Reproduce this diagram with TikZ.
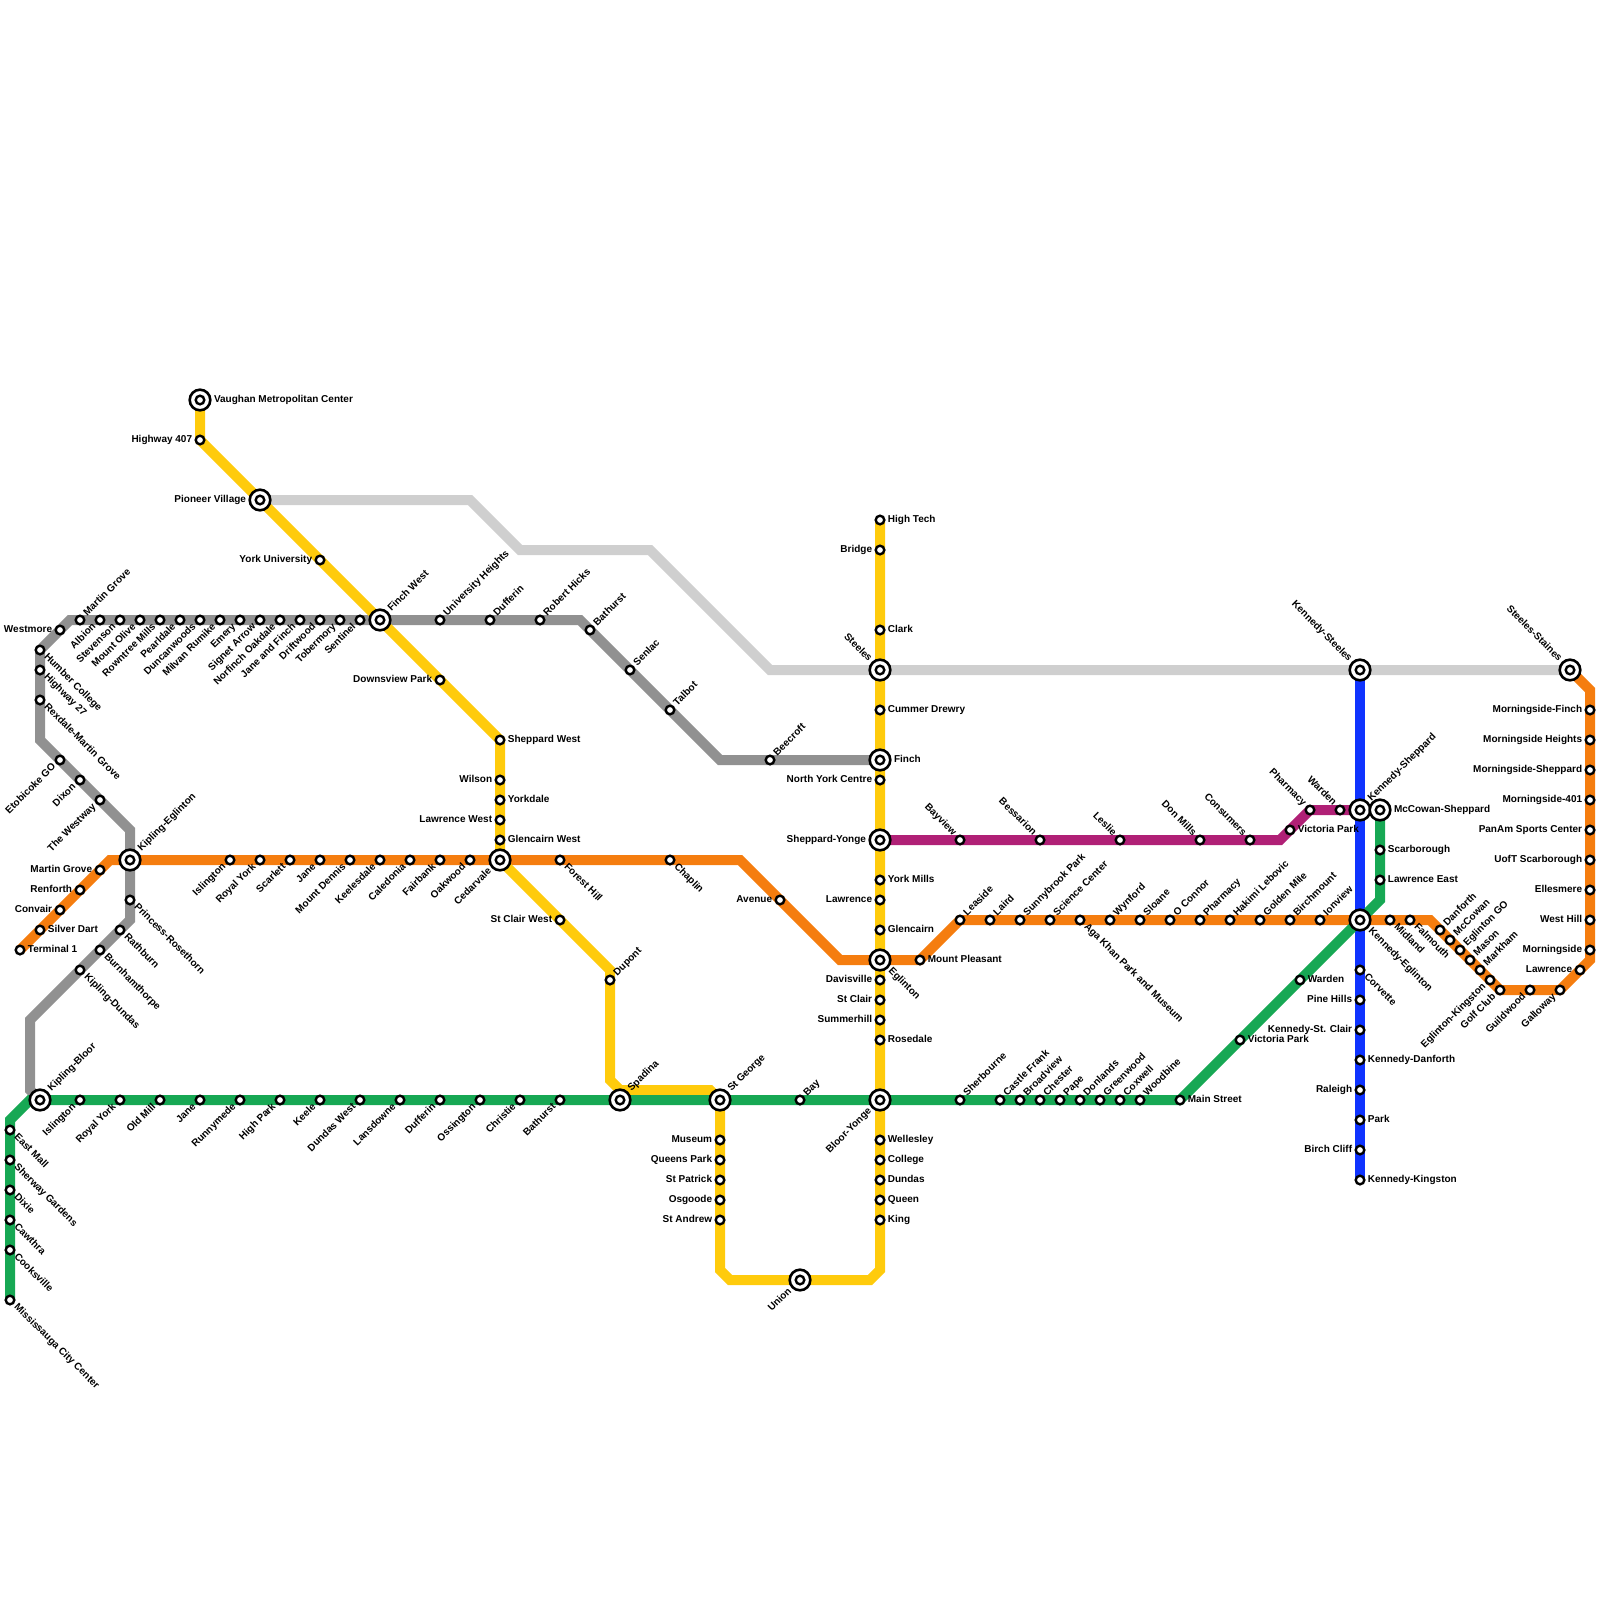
\documentclass[tikz,border=0pt]{standalone}
\usepackage{fontspec}
\usepackage{xcolor}
\setmainfont{Liberation Sans}
\usetikzlibrary{backgrounds}
\definecolor{LineGrey}{RGB}{145,145,145}
\definecolor{LinePale}{RGB}{207,207,207}
\definecolor{LineOrange}{RGB}{245,125,15}
\definecolor{LineYellow}{RGB}{255,203,12}
\definecolor{LineGreen}{RGB}{23,168,84}
\definecolor{LineBlue}{RGB}{15,51,255}
\definecolor{LinePurple}{RGB}{176,32,118}

\begin{document}
\begin{tikzpicture}[
    x=1pt,y=-1pt,
    st/.style={circle,draw=black,fill=white,line width=2.4pt,inner sep=0pt,minimum size=8.6pt},
    hub/.style={st,line width=2.6pt,minimum size=20.6pt,label distance=1pt,path picture={
        \draw[line width=2.4pt,fill=white] (path picture bounding box.center) circle (4.3pt);}},
    lab/.style={font=\fontsize{10}{10}\selectfont\bfseries,text height=7pt,text depth=2pt,inner sep=2.4pt,outer sep=0pt},
    rt/.style={label={[lab,anchor=west]0:#1}},
    lf/.style={label={[lab,anchor=east]180:#1}},
    ur/.style={label={[lab,rotate=45,anchor=west]45:#1}},
    dr/.style={label={[lab,rotate=-45,anchor=west]-45:#1}},
    ul/.style={label={[lab,rotate=-45,anchor=east]135:#1}},
    dl/.style={label={[lab,rotate=45,anchor=east]-135:#1}},
    ln/.style={line width=10pt}
  ]
  \useasboundingbox (0,0) rectangle (1600,1600);
  % Interchanges
  \node[hub,rt=Vaughan Metropolitan Center] (vaughan) at (200,400) {};
  \node[hub,lf=Pioneer Village] (pioneer) at (260,500) {};
  \node[hub,ur=Finch West] (finchw) at (380,620) {};
  \node[hub,rt=Finch] (finch) at (880,760) {};
  \node[hub,ul=Steeles] (steeles) at (880,670) {};
  \node[hub,lf=Sheppard-Yonge] (shepyonge) at (880,840) {};
  \node[hub,dr=Eglinton] (eglinton) at (880,960) {};
  \node[hub,dl=Bloor-Yonge] (blooryonge) at (880,1100) {};
  \node[hub,dl=Union] (union) at (800,1280) {};
  \node[hub,ur=St George] (stgeorge) at (720,1100) {};
  \node[hub,ur=Spadina] (spadina) at (620,1100) {};
  \node[hub,dl=Cedarvale] (cedarvale) at (500,860) {};
  \node[hub,ur=Kipling-Eglinton] (kipegl) at (130,860) {};
  \node[hub,ur=Kipling-Bloor] (kipbloor) at (40,1100) {};
  \node[hub,ul=Kennedy-Steeles] (kensteeles) at (1360,670) {};
  \node[hub,ur=Kennedy-Sheppard] (kenshep) at (1360,810) {};
  \node[hub,rt=McCowan-Sheppard] (mcshep) at (1380,810) {};
  \node[hub,dr=Kennedy-Eglinton] (keneglin) at (1360,920) {};
  \node[hub,ul=Steeles-Staines] (stainess) at (1570,670) {};
  % Grey line
  \node[st,lf=Westmore] (gwestmore) at (60,630) {};
  \node[st,ur=Martin Grove] (gmartin) at (80,620) {};
  \node[st,dl=Albion] (galbion) at (100,620) {};
  \node[st,dl=Stevenson] (gstevenson) at (120,620) {};
  \node[st,dl=Mount Olive] (golive) at (140,620) {};
  \node[st,dl=Rowntree Mills] (growntree) at (160,620) {};
  \node[st,dl=Pearldale] (gpearl) at (180,620) {};
  \node[st,dl=Duncanwoods] (gduncan) at (200,620) {};
  \node[st,dl=Milvan Rumike] (gmilvan) at (220,620) {};
  \node[st,dl=Emery] (gemery) at (240,620) {};
  \node[st,dl=Signet Arrow] (gsignet) at (260,620) {};
  \node[st,dl=Norfinch Oakdale] (gnorfinch) at (280,620) {};
  \node[st,dl=Jane and Finch] (gjane) at (300,620) {};
  \node[st,dl=Driftwood] (gdrift) at (320,620) {};
  \node[st,dl=Tobermory] (gtober) at (340,620) {};
  \node[st,dl=Sentinel] (gsentinel) at (360,620) {};
  \node[st,ur=University Heights] (guni) at (440,620) {};
  \node[st,ur=Dufferin] (gdufferin) at (490,620) {};
  \node[st,ur=Robert Hicks] (ghicks) at (540,620) {};
  \node[st,ur=Bathurst] (gbathurst) at (590,630) {};
  \node[st,ur=Senlac] (gsenlac) at (630,670) {};
  \node[st,ur=Talbot] (gtalbot) at (670,710) {};
  \node[st,ur=Beecroft] (gbeecroft) at (770,760) {};
  \node[st,dr=Humber College] (ghumber) at (40,650) {};
  \node[st,dr=Highway 27] (ghwy) at (40,670) {};
  \node[st,dr=Rexdale-Martin Grove] (grexdale) at (40,700) {};
  \node[st,dl=Etobicoke GO] (getob) at (60,760) {};
  \node[st,dl=Dixon] (gdixon) at (80,780) {};
  \node[st,dl=The Westway] (gwestway) at (100,800) {};
  \node[st,dr=Princess-Rosethorn] (gprincess) at (130,900) {};
  \node[st,dr=Rathburn] (grath) at (120,930) {};
  \node[st,dr=Burnhamthorpe] (gburn) at (100,950) {};
  \node[st,dr=Kipling-Dundas] (gkipd) at (80,970) {};
  % Orange line
  \node[st,rt=Terminal 1] (oterm) at (20,950) {};
  \node[st,rt=Silver Dart] (osilver) at (40,930) {};
  \node[st,lf=Convair] (oconvair) at (60,910) {};
  \node[st,lf=Renforth] (orenforth) at (80,890) {};
  \node[st,lf=Martin Grove] (omartin) at (100,870) {};
  \node[st,dl=Islington] (oisling) at (230,860) {};
  \node[st,dl=Royal York] (oroyal) at (260,860) {};
  \node[st,dl=Scarlett] (oscarlett) at (290,860) {};
  \node[st,dl=Jane] (ojane) at (320,860) {};
  \node[st,dl=Mount Dennis] (odennis) at (350,860) {};
  \node[st,dl=Keelesdale] (okeele) at (380,860) {};
  \node[st,dl=Caledonia] (ocaled) at (410,860) {};
  \node[st,dl=Fairbank] (ofair) at (440,860) {};
  \node[st,dl=Oakwood] (ooak) at (470,860) {};
  \node[st,dr=Forest Hill] (oforest) at (560,860) {};
  \node[st,dr=Chaplin] (ochaplin) at (670,860) {};
  \node[st,lf=Avenue] (oavenue) at (780,900) {};
  \node[st,rt=Mount Pleasant] (opleasant) at (920,960) {};
  \node[st,ur=Leaside] (oleaside) at (960,920) {};
  \node[st,ur=Laird] (olaird) at (990,920) {};
  \node[st,ur=Sunnybrook Park] (osunny) at (1020,920) {};
  \node[st,ur=Science Center] (oscience) at (1050,920) {};
  \node[st,dr=Aga Khan Park and Museum] (oaga) at (1080,920) {};
  \node[st,ur=Wynford] (owynford) at (1110,920) {};
  \node[st,ur=Sloane] (osloane) at (1140,920) {};
  \node[st,ur=O Connor] (oconnor) at (1170,920) {};
  \node[st,ur=Pharmacy] (opharm) at (1200,920) {};
  \node[st,ur=Hakimi Lebovic] (ohakimi) at (1230,920) {};
  \node[st,ur=Golden Mile] (ogolden) at (1260,920) {};
  \node[st,ur=Birchmount] (obirch) at (1290,920) {};
  \node[st,ur=Ionview] (oion) at (1320,920) {};
  \node[st,dr=Midland] (omidland) at (1390,920) {};
  \node[st,dr=Falmouth] (ofalmouth) at (1410,920) {};
  \node[st,ur=Danforth] (odanforth) at (1440,930) {};
  \node[st,ur=McCowan] (omccowan) at (1450,940) {};
  \node[st,ur=Eglinton GO] (oeglgo) at (1460,950) {};
  \node[st,ur=Mason] (omason) at (1470,960) {};
  \node[st,ur=Markham] (omarkham) at (1480,970) {};
  \node[st,dl=Eglinton-Kingston] (oeglking) at (1490,980) {};
  \node[st,dl=Golf Club] (ogolf) at (1500,990) {};
  \node[st,dl=Guildwood] (oguild) at (1530,990) {};
  \node[st,dl=Galloway] (ogallo) at (1560,990) {};
  \node[st,lf=Lawrence] (olawr) at (1580,970) {};
  \node[st,lf=Morningside] (omorn) at (1590,950) {};
  \node[st,lf=West Hill] (owest) at (1590,920) {};
  \node[st,lf=Ellesmere] (oelle) at (1590,890) {};
  \node[st,lf=UofT Scarborough] (ouoft) at (1590,860) {};
  \node[st,lf=PanAm Sports Center] (opanam) at (1590,830) {};
  \node[st,lf=Morningside-401] (om401) at (1590,800) {};
  \node[st,lf=Morningside-Sheppard] (omshep) at (1590,770) {};
  \node[st,lf=Morningside Heights] (omheights) at (1590,740) {};
  \node[st,lf=Morningside-Finch] (omfinch) at (1590,710) {};
  % Yellow line
  \node[st,lf=Highway 407] (yhwy) at (200,440) {};
  \node[st,lf=York University] (yyork) at (320,560) {};
  \node[st,lf=Downsview Park] (ydowns) at (440,680) {};
  \node[st,rt=Sheppard West] (yshepw) at (500,740) {};
  \node[st,lf=Wilson] (ywilson) at (500,780) {};
  \node[st,rt=Yorkdale] (yyorkd) at (500,800) {};
  \node[st,lf=Lawrence West] (ylawrw) at (500,820) {};
  \node[st,rt=Glencairn West] (yglenw) at (500,840) {};
  \node[st,lf=St Clair West] (yclairw) at (560,920) {};
  \node[st,ur=Dupont] (ydupont) at (610,980) {};
  \node[st,lf=Museum] (ymuseum) at (720,1140) {};
  \node[st,lf=Queens Park] (yqueens) at (720,1160) {};
  \node[st,lf=St Patrick] (ypatrick) at (720,1180) {};
  \node[st,lf=Osgoode] (yosgoode) at (720,1200) {};
  \node[st,lf=St Andrew] (yandrew) at (720,1220) {};
  \node[st,rt=King] (yking) at (880,1220) {};
  \node[st,rt=Queen] (yqueen) at (880,1200) {};
  \node[st,rt=Dundas] (ydundas) at (880,1180) {};
  \node[st,rt=College] (ycollege) at (880,1160) {};
  \node[st,rt=Wellesley] (ywelles) at (880,1140) {};
  \node[st,rt=Rosedale] (yrose) at (880,1040) {};
  \node[st,lf=Summerhill] (ysummer) at (880,1020) {};
  \node[st,lf=St Clair] (yclair) at (880,1000) {};
  \node[st,lf=Davisville] (ydavis) at (880,980) {};
  \node[st,rt=Glencairn] (yglen) at (880,930) {};
  \node[st,lf=Lawrence] (ylawr) at (880,900) {};
  \node[st,rt=York Mills] (ymills) at (880,880) {};
  \node[st,lf=North York Centre] (ynorth) at (880,780) {};
  \node[st,rt=Cummer Drewry] (ycummer) at (880,710) {};
  \node[st,rt=Clark] (yclark) at (880,630) {};
  \node[st,lf=Bridge] (ybridge) at (880,550) {};
  \node[st,rt=High Tech] (yhigh) at (880,520) {};
  % Purple line
  \node[st,ul=Bayview] (pbayview) at (960,840) {};
  \node[st,ul=Bessarion] (pbess) at (1040,840) {};
  \node[st,ul=Leslie] (pleslie) at (1120,840) {};
  \node[st,ul=Don Mills] (pdon) at (1200,840) {};
  \node[st,ul=Consumers] (pcons) at (1250,840) {};
  \node[st,rt=Victoria Park] (pvict) at (1290,830) {};
  \node[st,ul=Pharmacy] (ppharm) at (1310,810) {};
  \node[st,ul=Warden] (pwarden) at (1340,810) {};
  % Blue line
  \node[st,dr=Corvette] (bcorv) at (1360,970) {};
  \node[st,lf=Pine Hills] (bpine) at (1360,1000) {};
  \node[st,lf=Kennedy-St. Clair] (bclair) at (1360,1030) {};
  \node[st,rt=Kennedy-Danforth] (bdanf) at (1360,1060) {};
  \node[st,lf=Raleigh] (braleigh) at (1360,1090) {};
  \node[st,rt=Park] (bpark) at (1360,1120) {};
  \node[st,lf=Birch Cliff] (bbirch) at (1360,1150) {};
  \node[st,rt=Kennedy-Kingston] (bking) at (1360,1180) {};
  % Green line
  \node[st,dr=Mississauga City Center] (smiss) at (10,1300) {};
  \node[st,dr=Cooksville] (scook) at (10,1250) {};
  \node[st,dr=Cawthra] (scaw) at (10,1220) {};
  \node[st,dr=Dixie] (sdixie) at (10,1190) {};
  \node[st,dr=Sherway Gardens] (ssher) at (10,1160) {};
  \node[st,dr=East Mall] (seast) at (10,1130) {};
  \node[st,dl=Islington] (sisling) at (80,1100) {};
  \node[st,dl=Royal York] (sroyal) at (120,1100) {};
  \node[st,dl=Old Mill] (sold) at (160,1100) {};
  \node[st,dl=Jane] (sjane) at (200,1100) {};
  \node[st,dl=Runnymede] (srunny) at (240,1100) {};
  \node[st,dl=High Park] (shigh) at (280,1100) {};
  \node[st,dl=Keele] (skeele) at (320,1100) {};
  \node[st,dl=Dundas West] (sdundas) at (360,1100) {};
  \node[st,dl=Lansdowne] (slans) at (400,1100) {};
  \node[st,dl=Dufferin] (sduff) at (440,1100) {};
  \node[st,dl=Ossington] (sossing) at (480,1100) {};
  \node[st,dl=Christie] (schrist) at (520,1100) {};
  \node[st,dl=Bathurst] (sbath) at (560,1100) {};
  \node[st,ur=Bay] (sbay) at (800,1100) {};
  \node[st,ur=Sherbourne] (ssherb) at (960,1100) {};
  \node[st,ur=Castle Frank] (scastle) at (1000,1100) {};
  \node[st,ur=Broadview] (sbroad) at (1020,1100) {};
  \node[st,ur=Chester] (schester) at (1040,1100) {};
  \node[st,ur=Pape] (spape) at (1060,1100) {};
  \node[st,ur=Donlands] (sdon) at (1080,1100) {};
  \node[st,ur=Greenwood] (sgreen) at (1100,1100) {};
  \node[st,ur=Coxwell] (scox) at (1120,1100) {};
  \node[st,ur=Woodbine] (swood) at (1140,1100) {};
  \node[st,rt=Main Street] (smain) at (1180,1100) {};
  \node[st,rt=Victoria Park] (svict) at (1240,1040) {};
  \node[st,rt=Warden] (swarden) at (1300,980) {};
  \node[st,rt=Lawrence East] (slawr) at (1380,880) {};
  \node[st,rt=Scarborough] (sscar) at (1380,850) {};
  % Bends
  \coordinate (g1) at (30,1090);
  \coordinate (g2) at (30,1020);
  \coordinate (g3) at (130,920);
  \coordinate (g4) at (130,830);
  \coordinate (g5) at (40,740);
  \coordinate (g6) at (70,620);
  \coordinate (g7) at (580,620);
  \coordinate (g8) at (720,760);
  \coordinate (w1) at (470,500);
  \coordinate (w2) at (520,550);
  \coordinate (w3) at (650,550);
  \coordinate (w4) at (770,670);
  \coordinate (o1) at (110,860);
  \coordinate (o2) at (740,860);
  \coordinate (o3) at (840,960);
  \coordinate (o4) at (1430,920);
  \coordinate (o5) at (1500,990);
  \coordinate (o6) at (1560,990);
  \coordinate (o7) at (1590,960);
  \coordinate (o8) at (1590,690);
  \coordinate (y1) at (610,970);
  \coordinate (y2) at (610,1080);
  \coordinate (y3) at (620,1090);
  \coordinate (y4) at (710,1090);
  \coordinate (y5) at (720,1270);
  \coordinate (y6) at (730,1280);
  \coordinate (y7) at (870,1280);
  \coordinate (y8) at (880,1270);
  \coordinate (p1) at (1280,840);
  \coordinate (p2) at (1310,810);
  \coordinate (s1) at (10,1120);
  \coordinate (s2) at (30,1100);
  \coordinate (s3) at (1380,900);
  \begin{scope}[on background layer]
    \draw[ln,LinePale] (pioneer.center)--(w1)--(w2)--(w3)--(w4)--(stainess.center);
    \draw[ln,LineGrey] (kipbloor.center)--(g1)--(g2)--(g3)--(g4)--(g5)--(ghumber.center)--(g6)--(g7)--(g8)--(finch.center);
    \draw[ln,LineOrange] (oterm.center)--(o1)--(o2)--(o3)--(opleasant.center)--(oleaside.center)--(o4)--(o5)--(o6)--(o7)--(o8)--(stainess.center);
    \draw[ln,LineYellow] (vaughan.center)--(yhwy.center)--(yshepw.center)--(cedarvale.center)--(y1)--(y2)--(y3)--(y4)--(stgeorge.center)--(y5)--(y6)--(y7)--(y8)--(yhigh.center);
    \draw[ln,LineBlue] (kensteeles.center)--(bking.center);
    \draw[ln,LineGreen] (smiss.center)--(s1)--(s2)--(smain.center)--(keneglin.center)--(s3)--(mcshep.center);
    \draw[ln,LinePurple] (shepyonge.center)--(p1)--(p2)--(kenshep.center);
  \end{scope}
\end{tikzpicture}
\end{document}
